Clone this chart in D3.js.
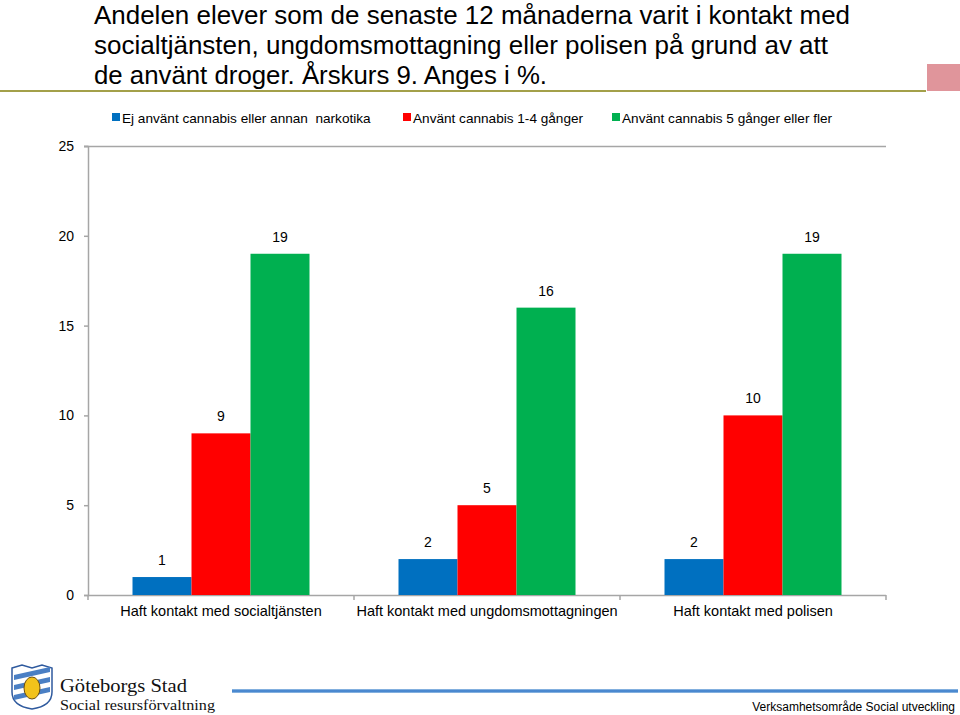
<!DOCTYPE html>
<html><head><meta charset="utf-8">
<script src="https://cdn.jsdelivr.net/npm/d3@7"></script>
<style>body{margin:0;background:#fff}svg{display:block}</style>
</head><body><svg id="c" width="960" height="715" font-family="Liberation Sans, Arial, sans-serif"></svg>
<script>
const titleLines = ["Andelen elever som de senaste 12 månaderna varit i kontakt med","socialtjänsten, ungdomsmottagning eller polisen på grund av att","de använt droger. Årskurs 9. Anges i %."];
const categories = ["Haft kontakt med socialtjänsten","Haft kontakt med ungdomsmottagningen","Haft kontakt med polisen"];
const seriesNames = ["Ej använt cannabis eller annan  narkotika","Använt cannabis 1-4 gånger","Använt cannabis 5 gånger eller fler"];
const seriesColors = ["#0070c0","#ff0000","#00b050"];
const noUse = [1,2,2];
const use14 = [9,5,10];
const use5plus = [19,16,19];
const yTicks = [0,5,10,15,20,25];
const values = [noUse, use14, use5plus];

const svg = d3.select("#c");
// title
const titleW = [756,734,453];
svg.append("g").selectAll("text").data(titleLines).join("text")
  .attr("x",94).attr("y",(d,i)=>24+i*30).attr("font-size",26).attr("fill","#000")
  .attr("textLength",(d,i)=>titleW[i]).attr("lengthAdjust","spacingAndGlyphs")
  .text(d=>d);
svg.append("line").attr("x1",0).attr("x2",926).attr("y1",91).attr("y2",91).attr("stroke","#a3a04a").attr("stroke-width",2);
svg.append("rect").attr("x",927).attr("y",64).attr("width",33).attr("height",27).attr("fill","#e0959b");

const x0 = d3.scaleBand().domain(categories).range([88,886]).paddingInner(0).paddingOuter(0);
const x1b = d3.scaleBand().domain([0,1,2]).range([44.5,x0.bandwidth()-44.5]);
const y = d3.scaleLinear().domain([0,25]).range([595,146]);

// top line
svg.append("line").attr("x1",84).attr("x2",886).attr("y1",y(25)+0.5).attr("y2",y(25)+0.5).attr("stroke","#a6a6a6").attr("stroke-width",1.5);

// y axis
const ya = svg.append("g").attr("transform","translate(88,0)").call(d3.axisLeft(y).tickValues(yTicks).tickSize(4).tickPadding(10));
ya.attr("font-family",null).attr("font-size",null);
ya.select(".domain").attr("stroke","#a6a6a6").attr("stroke-width",1.5);
ya.selectAll(".tick line").attr("stroke","#a6a6a6").attr("stroke-width",1.5);
ya.selectAll("text").attr("font-size",14).attr("fill","#000");

// x axis
const xa = svg.append("g").attr("transform","translate(0,595)").call(d3.axisBottom(x0).tickSize(0).tickPadding(11));
xa.attr("font-family",null).attr("font-size",null);
xa.select(".domain").remove();
xa.selectAll("text").attr("font-size",14.5).attr("fill","#000");
svg.append("line").attr("x1",88).attr("x2",886).attr("y1",595.5).attr("y2",595.5).attr("stroke","#a6a6a6").attr("stroke-width",1.5);
const bnds = [x0(categories[0]), ...categories.map(c=>x0(c)+x0.bandwidth())];
svg.append("g").selectAll("line").data(bnds).join("line")
  .attr("x1",d=>d).attr("x2",d=>d).attr("y1",595).attr("y2",600).attr("stroke","#a6a6a6").attr("stroke-width",1.5);

// bars
const g = svg.append("g");
values.forEach((vals,si)=>{
  g.selectAll(".b"+si).data(vals).join("rect")
    .attr("x",(d,i)=>x0(categories[i])+x1b(si)).attr("width",x1b.bandwidth())
    .attr("y",d=>y(d)).attr("height",d=>y(0)-y(d)).attr("fill",seriesColors[si]);
  g.selectAll(".l"+si).data(vals).join("text")
    .attr("x",(d,i)=>x0(categories[i])+x1b(si)+x1b.bandwidth()/2)
    .attr("y",d=>y(d)-12).attr("text-anchor","middle").attr("font-size",14).attr("fill","#000")
    .text(d=>d);
});

// legend
const legX = [112,403,612];
const lg = svg.append("g");
seriesNames.forEach((n,i)=>{
  lg.append("rect").attr("x",legX[i]).attr("y",113).attr("width",8).attr("height",8).attr("fill",seriesColors[i]);
  lg.append("text").attr("x",legX[i]+10).attr("y",122.5).attr("font-size",13.6).attr("fill","#000").style("white-space","pre").text(n);
});

// footer
const defs = svg.append("defs");
const gr = defs.append("linearGradient").attr("id","bl").attr("x1",0).attr("x2",0).attr("y1",0).attr("y2",1);
gr.append("stop").attr("offset",0).attr("stop-color","#9fc3e6");
gr.append("stop").attr("offset",0.5).attr("stop-color","#2e75c8");
gr.append("stop").attr("offset",1).attr("stop-color","#9fc3e6");
svg.append("rect").attr("x",232).attr("y",689).attr("width",726).attr("height",4).attr("fill","url(#bl)");
svg.append("text").attr("x",955).attr("y",711).attr("text-anchor","end").attr("font-size",12).attr("fill","#000").text("Verksamhetsområde Social utveckling");
svg.append("text").attr("x",60).attr("y",692).attr("font-size",19).attr("font-family","Liberation Serif, serif").attr("fill","#111").attr("textLength",127).attr("lengthAdjust","spacingAndGlyphs").text("Göteborgs Stad");
svg.append("text").attr("x",60).attr("y",710).attr("font-size",14.5).attr("font-family","Liberation Serif, serif").attr("fill","#111").attr("textLength",155).attr("lengthAdjust","spacingAndGlyphs").text("Social resursförvaltning");
// logo shield
const lo = svg.append("g").attr("transform","translate(12,665)");
lo.append("path").attr("d","M0,3 L10,0 L20,3 L30,0 L40,3 L40,27 Q40,41 20,44 Q0,41 0,27 Z").attr("fill","#fff").attr("stroke","#2f5a9e").attr("stroke-width",1.5);
[[2,10],[2,20],[2,30]].forEach(p=>lo.append("path").attr("d",`M${p[0]},${p[1]} L${p[0]+36},${p[1]-8} L${p[0]+36},${p[1]-3} L${p[0]},${p[1]+5} Z`).attr("fill","#4a7fc4"));
lo.append("ellipse").attr("cx",20).attr("cy",23).attr("rx",8).attr("ry",11).attr("fill","#f2c21b").attr("stroke","#6b4d10").attr("stroke-width",1);
</script></body></html>
